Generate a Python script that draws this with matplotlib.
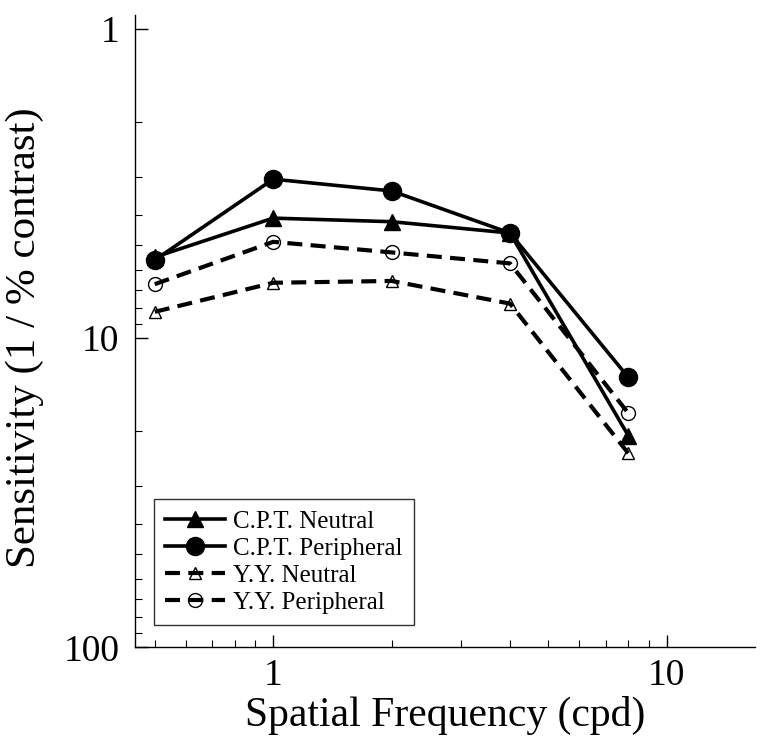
import matplotlib
matplotlib.use('Agg')
from matplotlib import pyplot as plt
from matplotlib.ticker import FixedLocator, NullFormatter

plt.rcParams['font.family'] = ['Liberation Serif', 'DejaVu Serif']

freq = [0.5, 1, 2, 4, 8]

cpt_neutral    = [5.47, 4.09, 4.20, 4.57, 20.7]
cpt_peripheral = [5.59, 3.06, 3.34, 4.57, 13.4]
yy_neutral     = [8.22, 6.62, 6.53, 7.73, 23.6]
yy_peripheral  = [6.69, 4.88, 5.28, 5.73, 17.5]

x_ticks = [1, 10]
y_ticks = [1, 10, 100]

fig = plt.figure(figsize=(7.62, 7.44), dpi=100)
ax = fig.add_axes([0.177, 0.13, 0.814, 0.85])

dash = (3.6, 2.0)
ax.plot(freq, cpt_neutral, color='black', linewidth=2.6, marker='^', markersize=12,
        label='C.P.T. Neutral', zorder=4)
ax.plot(freq, cpt_peripheral, color='black', linewidth=2.6, marker='o', markersize=13,
        label='C.P.T. Peripheral', zorder=4)
ax.plot(freq, yy_neutral, color='black', linewidth=3, dashes=dash, marker='^', markersize=9,
        markerfacecolor='none', markeredgewidth=1, label='Y.Y. Neutral', zorder=3)
ax.plot(freq, yy_peripheral, color='black', linewidth=3, dashes=dash, marker='o', markersize=10,
        markerfacecolor='none', markeredgewidth=1, label='Y.Y. Peripheral', zorder=3)

ax.set_xscale('log')
ax.set_yscale('log')
ax.set_xlim(0.445, 16.8)
ax.set_ylim(100, 0.9)

ax.xaxis.set_major_locator(FixedLocator(x_ticks))
ax.xaxis.set_minor_locator(FixedLocator([0.5, 0.6, 0.7, 0.8, 0.9] + list(range(2, 10))))
ax.xaxis.set_minor_formatter(NullFormatter())
ax.set_xticklabels([str(v) for v in x_ticks])
ax.yaxis.set_major_locator(FixedLocator(y_ticks))
ax.yaxis.set_minor_locator(FixedLocator(list(range(2, 10)) + list(range(20, 100, 10))))
ax.yaxis.set_minor_formatter(NullFormatter())
ax.set_yticklabels([str(v) for v in y_ticks])

for s in ['top', 'right']:
    ax.spines[s].set_visible(False)
for s in ['left', 'bottom']:
    ax.spines[s].set_linewidth(1)

ax.tick_params(which='major', direction='in', length=9, width=1, labelsize=27)
ax.tick_params(axis='y', which='major', pad=11)
ax.tick_params(axis='x', which='major', pad=8)
ax.tick_params(which='minor', direction='in', length=5, width=0.8)

ax.set_xlabel('Spatial Frequency (cpd)', fontsize=30, labelpad=2)
ax.set_ylabel('Sensitivity (1 / % contrast)', fontsize=31)
ax.yaxis.set_label_coords(-0.147, 0.489)

leg = ax.legend(loc='lower left', bbox_to_anchor=(0.031, 0.035), fontsize=18,
                frameon=True, fancybox=False, handlelength=2.4, borderpad=0.45,
                labelspacing=0.18, handletextpad=0.3, borderaxespad=0)
leg.get_frame().set_edgecolor('black')
leg.get_frame().set_linewidth(1)

plt.savefig('out.png', dpi=100)
